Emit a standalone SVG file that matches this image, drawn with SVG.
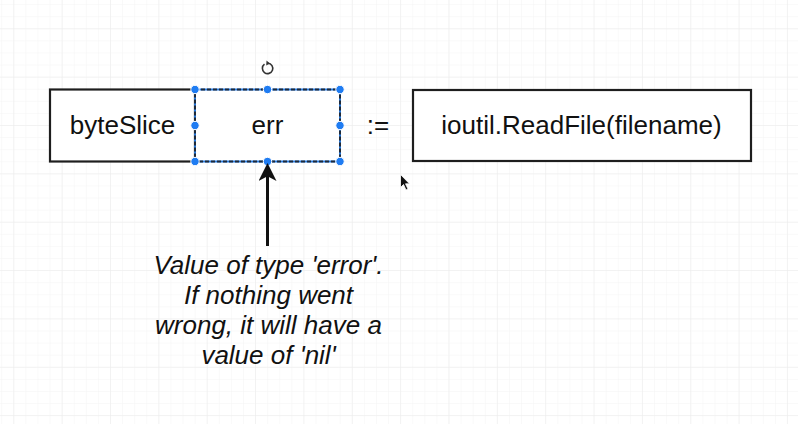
<svg xmlns="http://www.w3.org/2000/svg" width="798" height="424" viewBox="0 0 798 424">
<style>
.box{fill:#fff;stroke:#1e1e1e;stroke-width:2.2}
.lbl{font-family:"Liberation Sans",Arial,sans-serif;font-size:26px;fill:#111;text-anchor:middle}
.note{font-family:"Liberation Sans",Arial,sans-serif;font-size:26px;font-style:italic;fill:#111;text-anchor:middle}
.h{fill:#1f7cf2;stroke:#fff;stroke-width:1}
</style>
<defs>
<pattern id="minor" x="13.3" y="28.3" width="12.09" height="12.09" patternUnits="userSpaceOnUse">
<path d="M0 0H12.09M0 0V12.09" fill="none" stroke="#f4f4f4" stroke-width="1"/>
</pattern>
<pattern id="major" x="13.3" y="28.3" width="48.35" height="48.35" patternUnits="userSpaceOnUse">
<path d="M0 0H48.35M0 0V48.35" fill="none" stroke="#ebebeb" stroke-width="1"/>
</pattern>
<marker id="ah" markerWidth="6" markerHeight="6" refX="5" refY="3" orient="auto" markerUnits="strokeWidth">
<path d="M0 0L6 3L0 6L1.6 3Z" fill="#111"/>
</marker>
</defs>
<rect width="798" height="424" fill="#fff"/>
<rect width="798" height="424" fill="url(#minor)"/>
<rect width="798" height="424" fill="url(#major)"/>

<g id="byteSlice">
<rect class="box" x="50" y="89.5" width="145" height="72"/>
<text class="lbl" x="122.5" y="134">byteSlice</text>
</g>

<g id="err">
<rect x="195" y="89.5" width="145" height="72" fill="#fff" stroke="#2a7de1" stroke-width="2"/>
<rect x="195" y="89.5" width="145" height="72" fill="none" stroke="#1e2a3a" stroke-width="2" stroke-dasharray="4 2"/>
<text class="lbl" x="267.5" y="134">err</text>
<circle class="h" cx="195" cy="89.5" r="4.2"/>
<circle class="h" cx="267.5" cy="89.5" r="4.2"/>
<circle class="h" cx="340" cy="89.5" r="4.2"/>
<circle class="h" cx="195" cy="125.5" r="4.2"/>
<circle class="h" cx="340" cy="125.5" r="4.2"/>
<circle class="h" cx="195" cy="161.5" r="4.2"/>
<circle class="h" cx="267.5" cy="161.5" r="4.2"/>
<circle class="h" cx="340" cy="161.5" r="4.2"/>
<path d="M264.5 64.2A5.2 5.2 0 1 0 268 63.2" fill="none" stroke="#333" stroke-width="1.6"/>
<path d="M266.5 60.5L270 63.4L266.2 65.6Z" fill="#333"/>
</g>

<g id="assign">
<text class="lbl" x="378" y="134">:=</text>
</g>

<g id="readfile">
<rect class="box" x="413" y="90" width="338" height="71"/>
<text class="lbl" x="581.5" y="134">ioutil.ReadFile(filename)</text>
</g>

<g id="note">
<text class="note" x="268.5" y="274">Value of type 'error'.</text>
<text class="note" x="268.5" y="304">If nothing went</text>
<text class="note" x="268.5" y="334">wrong, it will have a</text>
<text class="note" x="268.5" y="364">value of 'nil'</text>
</g>

<g id="connectors">
<line x1="267.5" y1="246" x2="267.5" y2="166" stroke="#111" stroke-width="3" marker-end="url(#ah)"/>
</g>

<path d="M400.5 174.5V187.5L403.5 184.5L406 190L408 189L405.5 183.8H409.5Z" fill="#111" stroke="#fff" stroke-width="0.8"/>
</svg>
